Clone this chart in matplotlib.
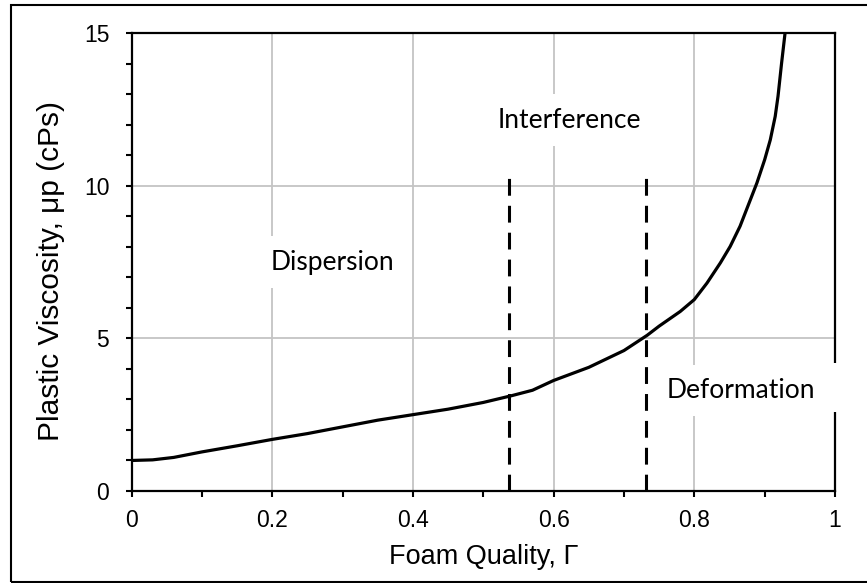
import matplotlib
matplotlib.use("Agg")
import matplotlib.pyplot as plt
from matplotlib.patches import Rectangle
from matplotlib.ticker import MultipleLocator

# Plastic viscosity of foam vs. foam quality
quality = [0.00, 0.03, 0.06, 0.10, 0.15, 0.20, 0.25, 0.30, 0.35, 0.40, 0.45,
           0.50, 0.54, 0.57, 0.60, 0.65, 0.70, 0.733, 0.75, 0.78, 0.80,
           0.818, 0.837, 0.851, 0.865, 0.877, 0.889, 0.900, 0.908, 0.915,
           0.919, 0.924, 0.929]
viscosity = [1.00, 1.02, 1.10, 1.28, 1.48, 1.69, 1.88, 2.10, 2.32, 2.50, 2.68,
             2.90, 3.12, 3.30, 3.62, 4.05, 4.60, 5.10, 5.40, 5.88, 6.27,
             6.81, 7.47, 8.01, 8.67, 9.38, 10.09, 10.85, 11.5, 12.27,
             12.93, 14.0, 15.0]

# Regime boundaries (foam quality) and their drawn height
boundaries = [0.537, 0.732]
boundary_top = 10.5

regions = ["Dispersion", "Interference", "Deformation"]
region_pos = [(0.285, 7.5), (0.623, 12.15), (0.866, 3.3)]

xticks = [0, 0.2, 0.4, 0.6, 0.8, 1]
xticklabels = ["0", "0.2", "0.4", "0.6", "0.8", "1"]
yticks = [0, 5, 10, 15]

fig = plt.figure(figsize=(8.67, 5.83), dpi=100)
ax = fig.add_axes([0.1517, 0.1578, 0.8114, 0.7856])

ax.set_xlim(0, 1)
ax.set_ylim(0, 15)
ax.set_xticks(xticks)
ax.set_xticklabels(xticklabels)
ax.set_yticks(yticks)
ax.xaxis.set_minor_locator(MultipleLocator(0.1))
ax.yaxis.set_minor_locator(MultipleLocator(1))
ax.grid(True, which="major", color="#c4c4c4", linewidth=1.3, zorder=0)
ax.set_axisbelow(True)

for s in ax.spines.values():
    s.set_linewidth(1.6)
    s.set_color("black")
    s.set_zorder(3)

ax.tick_params(which="both", direction="out", width=1.5, color="black")
ax.tick_params(which="major", length=4, labelsize=16.5)
ax.tick_params(which="minor", length=4)
ax.tick_params(axis="y", which="major", pad=12)
ax.tick_params(axis="x", which="major", pad=9)

for lab in ax.get_xticklabels() + ax.get_yticklabels():
    lab.set_family("Liberation Sans")

ax.plot(quality, viscosity, color="black", linewidth=2.3, zorder=4,
        solid_capstyle="butt", solid_joinstyle="round")

for b in boundaries:
    ax.plot([b, b], [0, boundary_top], color="black", linewidth=2.2,
            dashes=(5.5, 3.3), zorder=4, clip_on=False)

for name, (x, y) in zip(regions, region_pos):
    ax.text(x, y, name, family=["Lato", "DejaVu Sans"], fontsize=19,
            ha="center", va="center", zorder=6, clip_on=False,
            bbox=dict(boxstyle="square,pad=0.5", facecolor="white",
                      edgecolor="none"))

# The Deformation label's white box runs over the right frame edge
ax.add_patch(Rectangle((0.95, 2.6), 0.06, 1.6, facecolor="white",
                       edgecolor="none", zorder=5, clip_on=False))

ax.set_xlabel("Foam Quality, Γ", family="Liberation Sans", fontsize=19.5)
ax.set_ylabel("Plastic Viscosity, μp (cPs)", family="Liberation Sans",
              fontsize=21.5)
ax.xaxis.set_label_coords(0.5, -0.144)
ax.yaxis.set_label_coords(-0.114, 0.481)
ax.xaxis.label.set_va("center")
ax.yaxis.label.set_va("center")

# Outer frame around the figure (open on the right edge)
fig.patches.append(Rectangle((11 / 867, 1 - 581.5 / 583), 870 / 867,
                             576.5 / 583, transform=fig.transFigure,
                             fill=False, edgecolor="black", linewidth=1.5,
                             zorder=10))

fig.savefig("out.png", dpi=100)
